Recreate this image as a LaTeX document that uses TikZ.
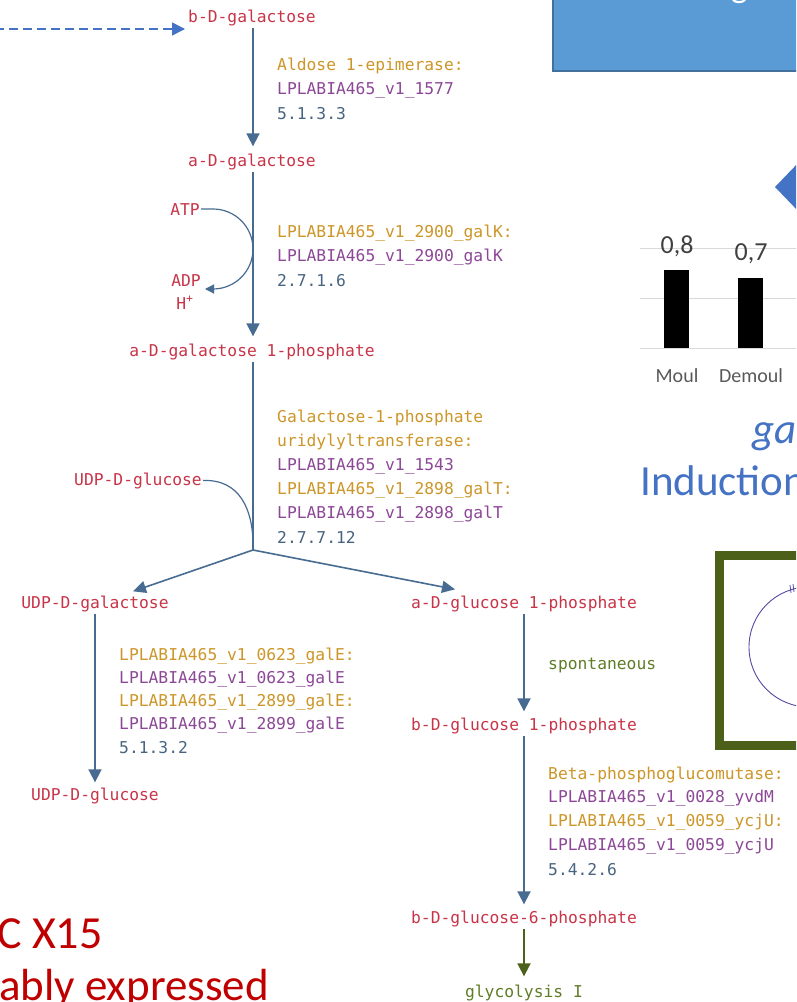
\documentclass[tikz,border=0pt]{standalone}
\usepackage{fontspec}
\setmainfont{Carlito}
\newfontfamily\pw{DejaVu Sans Mono}
\usetikzlibrary{arrows.meta}
\definecolor{cmp}{RGB}{200,52,72}
\definecolor{enz}{RGB}{204,150,40}
\definecolor{gene}{RGB}{140,72,150}
\definecolor{ecn}{RGB}{72,100,128}
\definecolor{arr}{RGB}{72,108,145}
\definecolor{grn}{RGB}{95,125,40}
\definecolor{dgrn}{RGB}{76,96,26}
\definecolor{slideblue}{RGB}{68,114,196}
\definecolor{boxblue}{RGB}{91,155,213}
\definecolor{boxedge}{RGB}{65,113,156}
\definecolor{dred}{RGB}{192,0,0}
\definecolor{chartdark}{RGB}{64,64,64}
\definecolor{chartgray}{RGB}{89,89,89}
\definecolor{gridc}{RGB}{217,217,217}
\definecolor{circc}{RGB}{85,75,165}
\begin{document}
\begin{tikzpicture}[x=1pt,y=-1pt,
  pwtext/.style={inner sep=0pt, font=\pw\fontsize{16.3}{16.3}\selectfont},
  cpd/.style={pwtext, text=cmp, anchor=base},
  enzl/.style={pwtext, text=enz, anchor=base west},
  genel/.style={pwtext, text=gene, anchor=base west},
  ecl/.style={pwtext, text=ecn, anchor=base west},
  flow/.style={draw=arr, line width=1.8pt, -{Triangle[width=13pt,length=13pt]}},
  side/.style={draw=arr, line width=1.2pt},
  slidetxt/.style={inner sep=0pt, anchor=base west},
]
\useasboundingbox (0,0) rectangle (796,1002);
\clip (0,0) rectangle (796,1002);
\fill[white] (0,0) rectangle (796,1002);

% ---------- slide elements ----------
\draw[fill=boxblue, draw=boxedge, line width=1.5pt] (553,-20) rectangle (830,71);
\node[slidetxt, anchor=base east, text=white, font=\fontsize{36}{36}\selectfont] (boxtitle) at (748,-3) {Scoring};
\fill[slideblue] (775,187) -- (800,161) -- (826,187) -- (800,213) -- cycle;

% bar chart
\foreach \gy in {248,298,348} \draw[gridc, line width=1pt] (640,\gy) -- (800,\gy);
\fill[black] (664,270) rectangle (689,348);
\fill[black] (738,278) rectangle (763,348);
\node[slidetxt, anchor=base, text=chartdark, font=\fontsize{26}{26}\selectfont] (v1) at (677,253) {0,8};
\node[slidetxt, anchor=base, text=chartdark, font=\fontsize{26}{26}\selectfont] (v2) at (751,260) {0,7};
\node[slidetxt, anchor=base, text=chartgray, font=\fontsize{20}{20}\selectfont] (l1) at (677,382) {Moul};
\node[slidetxt, anchor=base, text=chartgray, font=\fontsize{20}{20}\selectfont] (l2) at (751,382) {Demoul};

\node[slidetxt, text=slideblue, font=\fontsize{43}{43}\selectfont\itshape] (ga) at (752,443) {galK};
\node[slidetxt, text=slideblue, font=\fontsize{43}{43}\selectfont] (induct) at (640,495) {Induction};

% green framed picture
\draw[dgrn, line width=9pt] (719.5,555) rectangle (830,745);
\draw[circc, line width=0.9pt] (809,647) circle[radius=60];
\draw[circc, line width=0.8pt] (790,585) -- (791,593);
\draw[circc, line width=0.8pt] (793,584) -- (794,592);

% red slide text
\node[slidetxt, text=dred, font=\fontsize{46}{46}\selectfont] (x15) at (-3,948) {C X15};
\node[slidetxt, text=dred, font=\fontsize{45}{45}\selectfont] (expr) at (-1,1000) {ably expressed};

% ---------- pathway ----------
\coordinate (dashstart) at (-5,29);
\node[cpd] (bgal) at (252,22) {b-D-galactose};
\draw[slideblue, line width=1.5pt, dash pattern=on 9pt off 5pt, -{Triangle[width=13pt,length=13pt]}] (dashstart) -- ([xshift=-3pt]bgal.west |- dashstart);

\node[enzl] (e1a) at (277,70) {Aldose 1-epimerase:};
\node[genel] (e1b) at (277,94.5) {LPLABIA465\_v1\_1577};
\node[ecl] (e1c) at (277,119) {5.1.3.3};

\coordinate (mainx) at (253,0);
\node[cpd] (agal) at (252,166) {a-D-galactose};
\draw[flow] ([yshift=-2pt]bgal.south -| mainx) -- ([yshift=7pt]agal.north -| mainx);

\node[enzl] (e2a) at (277,237) {LPLABIA465\_v1\_2900\_galK:};
\node[genel] (e2b) at (277,261.5) {LPLABIA465\_v1\_2900\_galK};
\node[ecl] (e2c) at (277,286) {2.7.1.6};

\node[cpd, anchor=base east] (atp) at (200,215) {ATP};
\node[cpd] (adp) at (186,286) {ADP};
\node[cpd] (hplus) at (185,309) {H\textsuperscript{+}};
\coordinate (adptip) at (205,289);

\node[cpd] (agal1p) at (252,356) {a-D-galactose 1-phosphate};
\draw[flow] ([yshift=-2pt]agal.south -| mainx) -- ([yshift=7pt]agal1p.north -| mainx);
\draw[side, -{Triangle[width=9pt,length=9pt]}] ([xshift=1pt]atp.east) -- (213,209) arc[start angle=-90, end angle=90, radius=40] -- (adptip);

\node[enzl] (e3a) at (277,422) {Galactose-1-phosphate};
\node[enzl] (e3b) at (277,446) {uridylyltransferase:};
\node[genel] (e3c) at (277,470) {LPLABIA465\_v1\_1543};
\node[enzl] (e3d) at (277,494) {LPLABIA465\_v1\_2898\_galT:};
\node[genel] (e3e) at (277,518.5) {LPLABIA465\_v1\_2898\_galT};
\node[ecl] (e3f) at (277,543) {2.7.7.12};

\node[cpd, anchor=base east] (udpglc1) at (202,485) {UDP-D-glucose};
\coordinate (br) at (253,550);
\coordinate (udpjoin) at (253,545);
\draw[arr, line width=1.8pt] ([yshift=-2pt]agal1p.south -| mainx) -- (br);
\draw[side] ([xshift=1pt]udpglc1.east) .. controls (240,479) and (253,510) .. (udpjoin);

\node[cpd] (udpgal) at (95,608) {UDP-D-galactose};
\node[cpd] (aglc1p) at (524,608) {a-D-glucose 1-phosphate};
\draw[draw=arr, line width=1.6pt, -{Triangle[width=12pt,length=13pt]}] (br) -- ([shift={(38pt,4pt)}]udpgal.north);
\draw[draw=arr, line width=1.6pt, -{Triangle[width=12pt,length=13pt]}] (br) -- ([shift={(-69pt,6pt)}]aglc1p.north);

\node[enzl] (e4a) at (119,660) {LPLABIA465\_v1\_0623\_galE:};
\node[genel] (e4b) at (119,683) {LPLABIA465\_v1\_0623\_galE};
\node[enzl] (e4c) at (119,706) {LPLABIA465\_v1\_2899\_galE:};
\node[genel] (e4d) at (119,729) {LPLABIA465\_v1\_2899\_galE};
\node[ecl] (e4e) at (119,753) {5.1.3.2};
\node[cpd] (udpglc2) at (95,800) {UDP-D-glucose};
\draw[flow] ([yshift=-2pt]udpgal.south) -- ([yshift=5pt]udpglc2.north);

\node[pwtext, text=grn, anchor=base west] (spont) at (548,669) {spontaneous};
\node[cpd] (bglc1p) at (524,730) {b-D-glucose 1-phosphate};
\draw[flow] ([yshift=-2pt]aglc1p.south) -- ([yshift=6pt]bglc1p.north);

\node[enzl] (e5a) at (548,779) {Beta-phosphoglucomutase:};
\node[genel] (e5b) at (548,802.5) {LPLABIA465\_v1\_0028\_yvdM};
\node[enzl] (e5c) at (548,826.5) {LPLABIA465\_v1\_0059\_ycjU:};
\node[genel] (e5d) at (548,850.5) {LPLABIA465\_v1\_0059\_ycjU};
\node[ecl] (e5e) at (548,875) {5.4.2.6};
\node[cpd] (bglc6p) at (524,923) {b-D-glucose-6-phosphate};
\draw[flow] ([yshift=-2pt]bglc1p.south) -- ([yshift=6pt]bglc6p.north);

\node[pwtext, text=grn, anchor=base] (glyc) at (524,997) {glycolysis I};
\draw[draw=dgrn, line width=1.8pt, -{Triangle[width=13pt,length=13pt]}] ([yshift=-2pt]bglc6p.south) -- ([yshift=8pt]glyc.north);
\end{tikzpicture}
\end{document}
